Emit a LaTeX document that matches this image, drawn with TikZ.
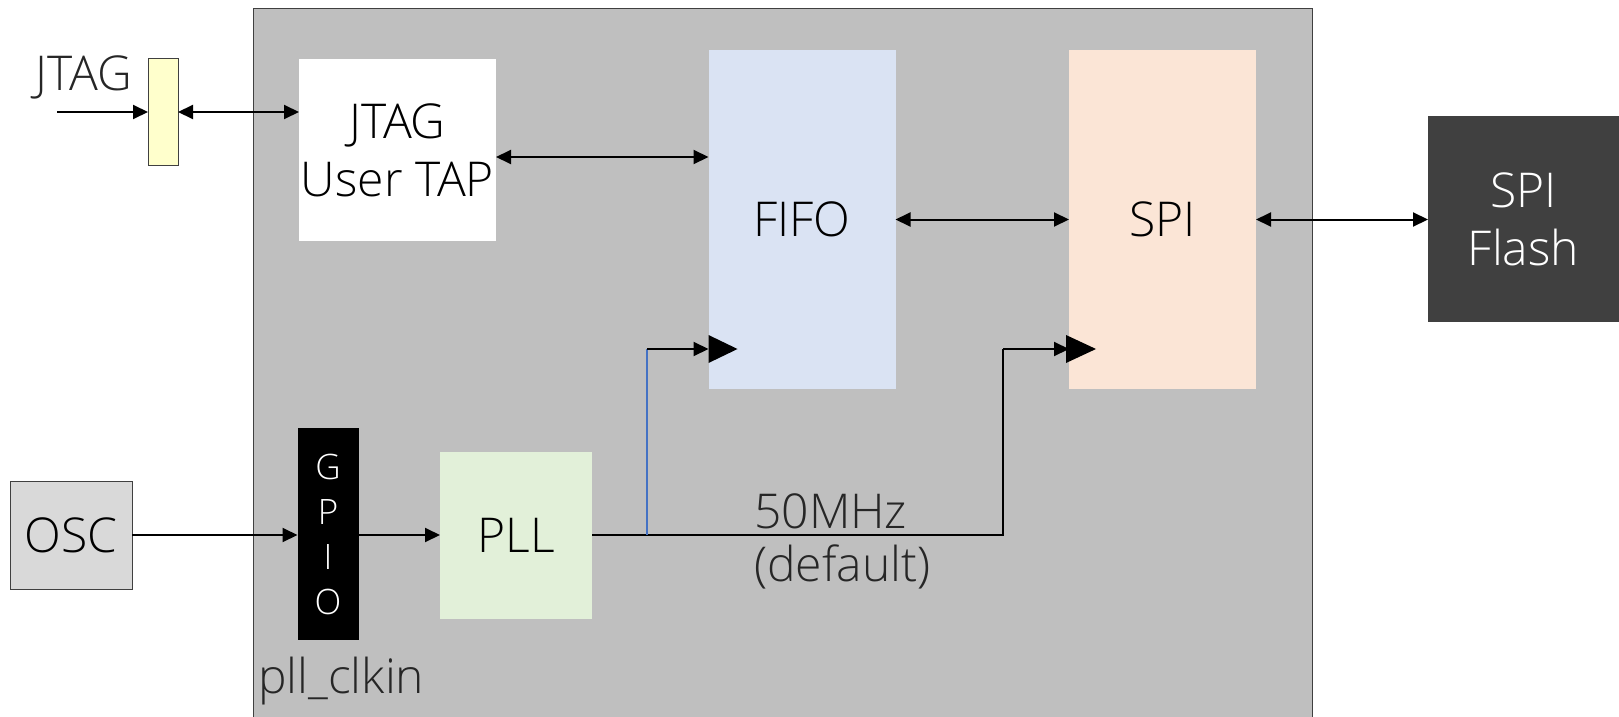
\documentclass[tikz,border=0pt]{standalone}
\usepackage{fontspec}
\setmainfont{Open Sans}[UprightFont=* Light]
\usetikzlibrary{arrows.meta}
\definecolor{chipbg}{HTML}{BFBFBF}
\definecolor{fifofill}{HTML}{DAE3F3}
\definecolor{spifill}{HTML}{FBE5D6}
\definecolor{pllfill}{HTML}{E2F0D9}
\definecolor{padfill}{HTML}{FFFFCC}
\definecolor{oscfill}{HTML}{D9D9D9}
\definecolor{flashfill}{HTML}{404040}
\definecolor{edge}{HTML}{404040}
\definecolor{txt}{HTML}{262626}
\definecolor{bluewire}{HTML}{4472C4}
\begin{document}
\begin{tikzpicture}[x=1pt,y=-1pt,
  big/.style={font=\fontsize{48}{58}\selectfont},
  blk/.style={draw=none,inner sep=0pt,outer sep=0pt,align=center,big},
  arr/.style={line width=2pt,-{Triangle[length=15pt,width=14pt]}},
  arrtwo/.style={line width=2pt,{Triangle[length=15pt,width=14pt]}-{Triangle[length=15pt,width=14pt]}},
  wire/.style={line width=2pt},
  clk/.style={fill=black}]
\clip (0,0) rectangle (1619,717);
% chip outline
\draw[fill=chipbg,draw=edge,line width=1pt] (253,9) rectangle (1312,740);

% blocks
\node[blk,fill=padfill,draw=edge,line width=1pt,minimum width=30pt,minimum height=106pt] (jbar) at (163,112) {};
\node[blk,fill=white,minimum width=197pt,minimum height=182pt] (tap) at (397.5,150) {JTAG\\User TAP};
\node[blk,fill=fifofill,minimum width=187pt,minimum height=339pt] (fifo) at (802,219.5) {FIFO};
\node[blk,fill=spifill,minimum width=187pt,minimum height=339pt] (spi) at (1162.5,219.5) {SPI};
\node[blk,fill=flashfill,text=white,minimum width=191pt,minimum height=206pt] (flash) at (1523.5,219) {SPI\\Flash};
\node[blk,fill=oscfill,draw=edge,line width=1pt,minimum width=122pt,minimum height=108pt] (osc) at (71,535) {OSC};
\node[blk,fill=black,text=white,minimum width=61pt,minimum height=212pt,font=\fontsize{35}{45}\selectfont] (gpio) at (328,534) {G\\P\\I\\O};
\node[blk,fill=pllfill,minimum width=152pt,minimum height=167pt] (pll) at (516,535) {PLL};

% labels
\node[big,text=txt,inner sep=0pt,anchor=base] (jtaglbl) at (84,90) {JTAG};
\node[big,text=txt,inner sep=0pt,anchor=base west] (clkin) at (258,693) {pll\_clkin};
\node[text=txt,inner sep=0pt,anchor=base west,font=\fontsize{48}{53}\selectfont] (freq) at (754,528)
  {\begin{tabular}[t]{@{}l@{}}50MHz\\(default)\end{tabular}};

% connectors
\coordinate (jin) at (57,112);
\draw[arr] (jin) -- (jbar.west);
\draw[arrtwo] (jbar.east) -- (jbar.east -| tap.west);
\draw[arrtwo] ([yshift=-7pt]tap.east) coordinate (t1) -- (t1 -| fifo.west);
\draw[arrtwo] (fifo.east) -- (spi.west);
\draw[arrtwo] (spi.east) -- (spi.east -| flash.west);
\draw[arr] (osc.east) -- (osc.east -| gpio.west);
\draw[arr] (gpio.east |- pll.west) -- (pll.west);

% clock distribution
\coordinate (br) at (647,535);
\coordinate (ckf) at (fifo.west |- 0,349);
\coordinate (cks) at (spi.west |- 0,349);
\coordinate (turn) at (1003,535);
\draw[wire] (pll.east) -- (turn) -- (turn |- cks);
\draw[arr] (turn |- cks) -- (cks);
\draw[line width=1.5pt,bluewire] (br) -- (br |- ckf);
\draw[arr] (br |- ckf) -- (ckf);
\fill[clk] (ckf) ++(0,-14) -- ++(29,14) -- ++(-29,14) -- cycle;
\fill[clk] (cks) ++(-3,-14) -- ++(30,14) -- ++(-30,14) -- cycle;
\end{tikzpicture}
\end{document}
